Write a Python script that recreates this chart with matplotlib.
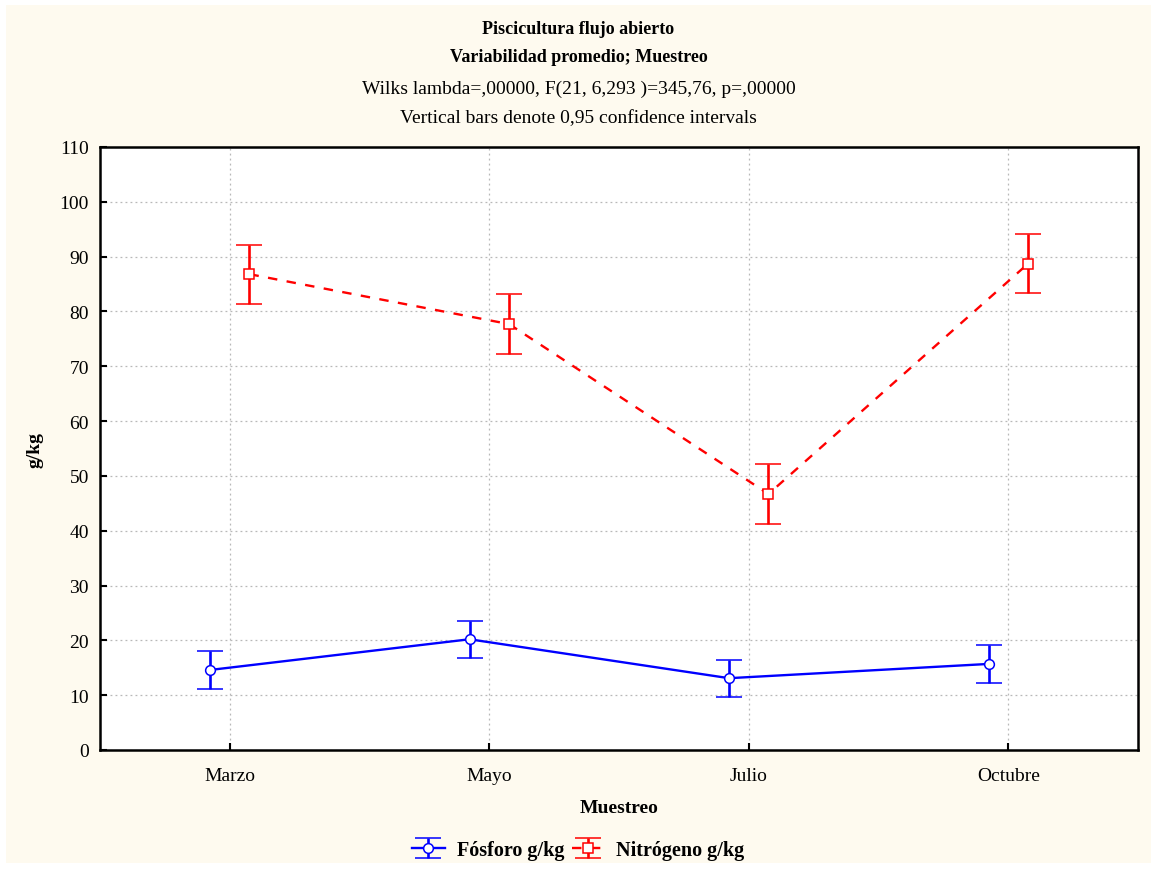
import matplotlib
matplotlib.use('Agg')
import matplotlib.pyplot as plt
from matplotlib.patches import Rectangle
import numpy as np

months = ['Marzo', 'Mayo', 'Julio', 'Octubre']
fosforo = [14.6, 20.2, 13.1, 15.7]
fosforo_ci = [3.5, 3.4, 3.4, 3.4]
nitrogeno = [86.8, 77.7, 46.7, 88.7]
nitrogeno_ci = [5.4, 5.4, 5.5, 5.4]
yticks = list(range(0, 111, 10))

plt.rcParams['font.family'] = ['Liberation Serif', 'DejaVu Serif']

W, H = 1157, 870
fig = plt.figure(figsize=(W / 100, H / 100), dpi=100)
fig.patch.set_facecolor('white')
fig.add_artist(Rectangle((6 / W, 6 / H), (W - 12) / W, (H - 12) / H,
                         transform=fig.transFigure, facecolor='#fefaef',
                         edgecolor='none', zorder=0))

ax = fig.add_axes([100 / W, 1 - 751 / H, 1038 / W, 603 / H])
ax.set_facecolor('white')

x = np.arange(len(months))
off = 0.076

ax.errorbar(x - off, fosforo, yerr=fosforo_ci, color='#0000ff', lw=1.7,
            marker='o', ms=7, mfc='white', mec='#0000ff', mew=1.1,
            capsize=9.5, capthick=1.9, elinewidth=1.9, label='Fósforo g/kg', zorder=3)
ax.errorbar(x + off, nitrogeno, yerr=nitrogeno_ci, color='#ff0000', lw=1.7, ls=(0, (4, 4)),
            marker='s', ms=7, mfc='white', mec='#ff0000', mew=1.1,
            capsize=9.5, capthick=1.9, elinewidth=1.9, label='Nitrógeno g/kg', zorder=3)

ax.set_xlim(-0.5, 3.5)
ax.set_ylim(0, 110)
ax.set_xticks(x)
ax.set_xticklabels(months)
ax.set_yticks(yticks)
ax.tick_params(direction='in', length=5, width=1.5, labelsize=14, colors='black', pad=12)
ax.tick_params(axis='y', pad=8)
ax.grid(True, color='#b8b8b8', ls=(0, (1.5, 2.5)), lw=0.9)
for s in ax.spines.values():
    s.set_linewidth(1.8)

ax.set_xlabel('Muestreo', fontsize=14, fontweight='bold', labelpad=11)
ax.set_ylabel('g/kg', fontsize=14, fontweight='bold')
ax.yaxis.set_label_coords(-57 / 1038, 0.5)

fig.text(0.5, 1 - 30 / H, 'Piscicultura flujo abierto', ha='center', va='center', fontsize=13, fontweight='bold')
fig.text(0.5, 1 - 57 / H, 'Variabilidad promedio; Muestreo', ha='center', va='center', fontsize=13, fontweight='bold')
fig.text(0.5, 1 - 89 / H, 'Wilks lambda=,00000, F(21, 6,293 )=345,76, p=,00000', ha='center', va='center', fontsize=14)
fig.text(0.5, 1 - 119 / H, 'Vertical bars denote 0,95 confidence intervals', ha='center', va='center', fontsize=14)

leg = fig.legend(loc='center', bbox_to_anchor=(0.5, 1 - 851 / H), ncol=2, frameon=False,
                 prop={'size': 14.5, 'weight': 'bold'}, handlelength=1.6, columnspacing=0.4, handletextpad=0.6)

fig.savefig('out.png', dpi=100, facecolor=fig.get_facecolor())
